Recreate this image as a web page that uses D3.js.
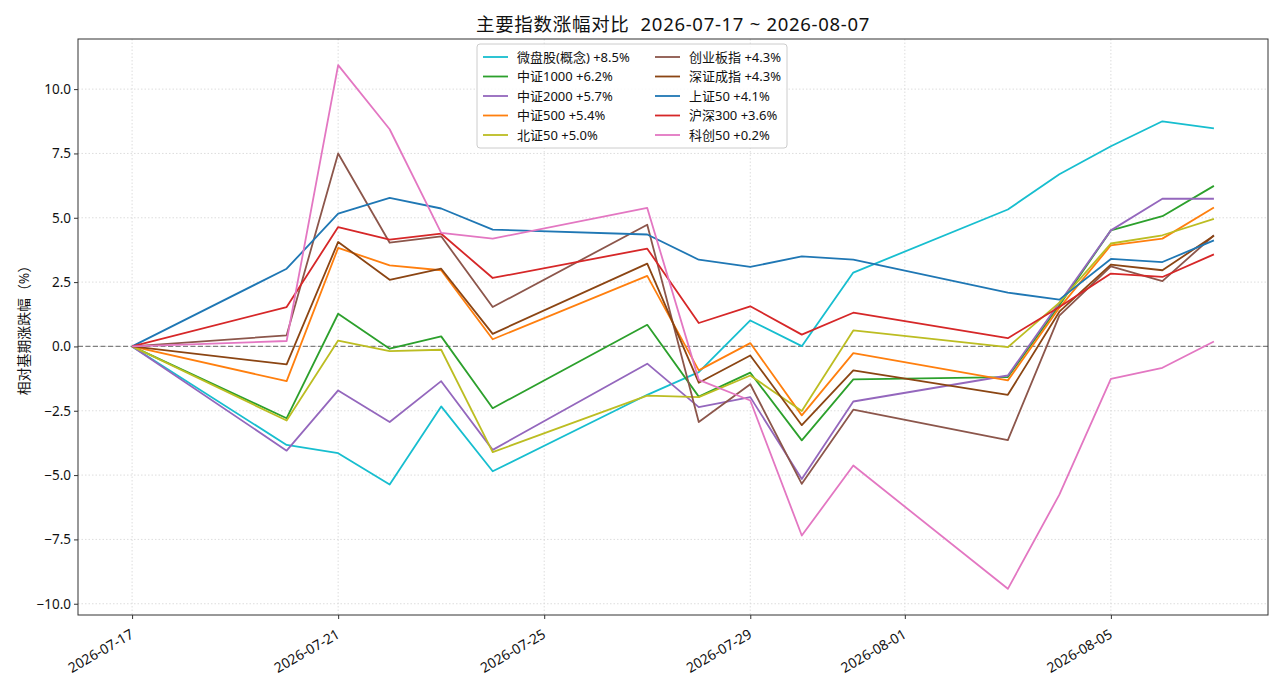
<!DOCTYPE html>
<html>
<head>
<meta charset="utf-8">
<script src="https://cdn.jsdelivr.net/npm/d3@7"></script>
<style>
  body { margin: 0; background: #fff; }
  text { font-family: "Noto Sans", "Noto Sans CJK SC", sans-serif; fill: #111; }
</style>
</head>
<body>
<svg id="chart"></svg>
<script>
// Trading dates
var dates = ["2026-07-17","2026-07-20","2026-07-21","2026-07-22","2026-07-23","2026-07-24",
             "2026-07-27","2026-07-28","2026-07-29","2026-07-30","2026-07-31",
             "2026-08-03","2026-08-04","2026-08-05","2026-08-06","2026-08-07"];

// Index names, in legend order
var names = ["微盘股(概念)","中证1000","中证2000","中证500","北证50",
             "创业板指","深证成指","上证50","沪深300","科创50"];

var colors = ["#17becf","#2ca02c","#9467bd","#ff7f0e","#bcbd22",
              "#8c564b","#8b4513","#1f77b4","#d62728","#e377c2"];

// Cumulative change vs base date (%)
var weipan   = [0,-3.83,-4.15,-5.37,-2.33,-4.85,-1.88,-1.00, 1.01, 0.01, 2.87, 5.32, 6.69, 7.78, 8.75, 8.47];
var zz1000   = [0,-2.79, 1.27,-0.09, 0.39,-2.40, 0.84,-1.95,-1.02,-3.65,-1.28,-1.19, 1.60, 4.51, 5.06, 6.24];
var zz2000   = [0,-4.05,-1.71,-2.94,-1.35,-4.02,-0.67,-2.36,-1.97,-5.15,-2.14,-1.13, 1.70, 4.51, 5.74, 5.74];
var zz500    = [0,-1.35, 3.83, 3.15, 2.96, 0.28, 2.74,-0.93, 0.13,-2.68,-0.26,-1.32, 1.50, 3.93, 4.19, 5.40];
var bz50     = [0,-2.88, 0.23,-0.18,-0.13,-4.11,-1.91,-1.97,-1.13,-2.51, 0.62,-0.03, 1.70, 4.00, 4.32, 4.96];
var cybz     = [0, 0.43, 7.50, 4.03, 4.28, 1.53, 4.73,-2.94,-1.47,-5.34,-2.46,-3.64, 1.20, 3.11, 2.54, 4.32];
var szcz     = [0,-0.70, 4.06, 2.59, 3.02, 0.49, 3.22,-1.41,-0.35,-3.06,-0.93,-1.88, 1.35, 3.18, 2.96, 4.30];
var sz50     = [0, 3.02, 5.16, 5.77, 5.36, 4.54, 4.35, 3.37, 3.09, 3.50, 3.37, 2.09, 1.82, 3.40, 3.28, 4.12];
var hs300    = [0, 1.53, 4.64, 4.15, 4.38, 2.66, 3.80, 0.91, 1.56, 0.46, 1.31, 0.32, 1.53, 2.83, 2.70, 3.58];
var kc50     = [0, 0.21,10.93, 8.44, 4.41, 4.19, 5.38,-1.30,-2.10,-7.35,-4.63,-9.42,-5.76,-1.26,-0.83, 0.19];

var seriesValues = [weipan, zz1000, zz2000, zz500, bz50, cybz, szcz, sz50, hs300, kc50];

// Tick labels
var xTicks = ["2026-07-17","2026-07-21","2026-07-25","2026-07-29","2026-08-01","2026-08-05"];
var yTicks = [-10, -7.5, -5, -2.5, 0, 2.5, 5, 7.5, 10];

var title = "主要指数涨幅对比  2026-07-17 ~ 2026-08-07";
var yLabel = "相对基期涨跌幅（%）";

// SVG size params
var width = 1280;
var height = 689;
var margin = {left: 78, right: 12, top: 39, bottom: 74};

var svg = d3.select("#chart")
            .attr("width", width)
            .attr("height", height);

var parse = d3.utcParse("%Y-%m-%d");

// Build series table
var series = names.map(function(name, i) {
  return {
    name: name,
    color: colors[i],
    values: seriesValues[i].map(function(v, j) { return {date: parse(dates[j]), value: v}; })
  };
});

// Scales with matplotlib-like 5% padding
var xExt = d3.extent(dates, parse);
var xPad = (xExt[1] - xExt[0]) * 0.05;
var x = d3.scaleUtc()
          .domain([new Date(+xExt[0] - xPad), new Date(+xExt[1] + xPad)])
          .range([margin.left, width - margin.right]);

var allVals = d3.merge(seriesValues);
var yMin = d3.min(allVals), yMax = d3.max(allVals);
var yPad = (yMax - yMin) * 0.05;
var y = d3.scaleLinear()
          .domain([yMin - yPad, yMax + yPad])
          .range([height - margin.bottom, margin.top]);

// Gridlines
var grid = svg.append("g").attr("id", "gridLines");
grid.selectAll("line.gx")
    .data(xTicks)
  .enter().append("line")
    .attr("x1", d => x(parse(d))).attr("x2", d => x(parse(d)))
    .attr("y1", margin.top).attr("y2", height - margin.bottom)
    .attr("stroke", "#d9d9d9").attr("stroke-dasharray", "1.5,2").attr("stroke-width", 0.9);
grid.selectAll("line.gy")
    .data(yTicks)
  .enter().append("line")
    .attr("x1", margin.left).attr("x2", width - margin.right)
    .attr("y1", d => y(d)).attr("y2", d => y(d))
    .attr("stroke", "#d9d9d9").attr("stroke-dasharray", "1.5,2").attr("stroke-width", 0.9);

// Zero reference line
svg.append("line")
    .attr("x1", margin.left).attr("x2", width - margin.right)
    .attr("y1", y(0)).attr("y2", y(0))
    .attr("stroke", "#808080").attr("stroke-width", 1.2)
    .attr("stroke-dasharray", "5,2.5");

// Lines
var line = d3.line()
             .x(d => x(d.date))
             .y(d => y(d.value));

svg.append("g")
    .attr("id", "lines")
  .selectAll("path")
    .data(series)
  .enter().append("path")
    .attr("d", d => line(d.values))
    .attr("fill", "none")
    .attr("stroke", d => d.color)
    .attr("stroke-width", 1.8)
    .attr("stroke-linejoin", "round");

// Axes
var xAxis = d3.axisBottom(x)
              .tickValues(xTicks.map(parse))
              .tickFormat(d3.utcFormat("%Y-%m-%d"))
              .tickSizeOuter(0)
              .tickSize(4);

var gx = svg.append("g")
    .attr("transform", "translate(0," + (height - margin.bottom) + ")")
    .call(xAxis);
gx.select(".domain").remove();
gx.selectAll(".tick line").attr("stroke", "#333");
gx.selectAll(".tick text")
    .style("font-size", "13.9px")
    .attr("text-anchor", "end")
    .attr("y", 0)
    .attr("dy", "0")
    .attr("transform", "translate(2,22) rotate(-30)");

var yAxis = d3.axisLeft(y)
              .tickValues(yTicks)
              .tickFormat(d3.format(".1f"))
              .tickSizeOuter(0)
              .tickSize(4);

var gy = svg.append("g")
    .attr("transform", "translate(" + margin.left + ",0)")
    .call(yAxis);
gy.select(".domain").remove();
gy.selectAll(".tick line").attr("stroke", "#333");
gy.selectAll(".tick text")
    .style("font-size", "13.5px")
    .attr("x", -7);

// Axes frame
svg.append("rect")
    .attr("x", margin.left).attr("y", margin.top)
    .attr("width", width - margin.left - margin.right)
    .attr("height", height - margin.top - margin.bottom)
    .attr("fill", "none").attr("stroke", "#333").attr("stroke-width", 1);

// Title and y label
svg.append("text")
    .attr("x", (margin.left + width - margin.right) / 2)
    .attr("y", 31)
    .attr("text-anchor", "middle")
    .style("font-size", "18.5px")
    .style("letter-spacing", "0.7px")
    .style("white-space", "pre")
    .text(title);

svg.append("text")
    .attr("transform", "translate(24," + ((margin.top + height - margin.bottom) / 2) + ") rotate(-90)")
    .attr("text-anchor", "middle")
    .attr("dy", "0.35em")
    .style("font-size", "13.9px")
    .text(yLabel);

// Legend
var legend = svg.append("g").attr("id", "legend").attr("transform", "translate(477,44)");
legend.append("rect")
    .attr("width", 310).attr("height", 104)
    .attr("rx", 3)
    .attr("fill", "#fff").attr("fill-opacity", 0.85)
    .attr("stroke", "#ccc");

var item = legend.selectAll("g.item")
    .data(series)
  .enter().append("g")
    .attr("class", "item")
    .attr("transform", (d, i) => "translate(" + (i < 5 ? 6 : 178) + "," + (13 + (i % 5) * 19.5) + ")");

item.append("line")
    .attr("x1", 0).attr("x2", 25)
    .attr("stroke", d => d.color).attr("stroke-width", 1.8);

item.append("text")
    .attr("x", 34)
    .attr("dy", "0.35em")
    .style("font-size", "13px")
    .text(d => d.name + " +" + d.values[d.values.length - 1].value.toFixed(1) + "%");
</script>
</body>
</html>
